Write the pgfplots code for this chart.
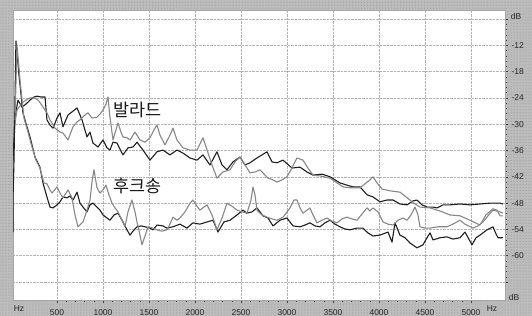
\documentclass[border=0pt]{standalone}
\usepackage{pgfplots}
\pgfplotsset{compat=1.18}
\usepackage{fontspec}
\setmainfont{Liberation Sans}
\newfontfamily\kr{Noto Sans CJK KR}
\usetikzlibrary{patterns}
\definecolor{framegray}{RGB}{188,188,188}
\definecolor{darkline}{RGB}{30,30,30}
\definecolor{lightline}{RGB}{135,135,135}
\begin{document}
\begin{tikzpicture}
\fill[framegray] (-13bp,-16bp) rectangle (519bp,300bp);
\fill[pattern=dots, pattern color=gray!85] (-13bp,-16bp) rectangle (519bp,300bp);
\begin{axis}[
  at={(0bp,0bp)}, anchor=south west,
  scale only axis, width=492bp, height=290bp,
  xmin=22, xmax=5370, ymin=-70.1, ymax=-3.95,
  axis background/.style={fill=white},
  axis line style={draw=gray!70, line width=0.5bp},
  xtick={500,1000,1500,2000,2500,3000,3500,4000,4500,5000},
  xticklabels={500,1000,1500,2000,2500,3000,3500,4000,4500,5000},
  ytick={-6,-12,-18,-24,-30,-36,-42,-48,-54,-60,-66},
  yticklabels={,-12,-18,-24,-30,-36,-42,-48,-54,-60,},
  minor x tick num=4, minor y tick num=4,
  xtick pos=bottom, ytick pos=right, yticklabel pos=right,
  tick align=outside,
  major tick length=3bp, minor tick length=2bp,
  every tick/.style={black!75, line width=0.5bp},
  grid=major,
  major grid style={gray!60, densely dotted, line width=0.5bp},
  ticklabel style={font=\fontsize{8.5}{9}\selectfont, text=black!85},
  xticklabel style={anchor=base, yshift=-12.5bp},
  yticklabel style={anchor=west, xshift=0bp},
  clip=true,
]
% Ballad, dark
\addplot[darkline, line width=1.1bp, line join=round] coordinates {
(22,-38.2)(44,-28.4)(76,-24.5)(120,-26.1)(163,-25.4)(207,-24.5)(250,-23.8)(283,-23.6)(326,-23.8)(370,-23.8)
(391,-29.0)(424,-30.2)(457,-30.9)(500,-28.6)(533,-27.4)(565,-30.6)(620,-27.9)(663,-27.2)(718,-26.3)(772,-29.0)
(826,-32.9)(859,-31.8)(891,-34.3)(946,-35.2)(1000,-33.6)(1044,-35.4)(1076,-35.9)(1109,-34.1)(1152,-34.3)(1217,-37.0)
(1272,-35.4)(1326,-35.2)(1370,-34.1)(1435,-35.9)(1511,-38.2)(1587,-36.3)(1652,-35.9)(1728,-37.0)(1804,-35.9)(1870,-36.6)
(1946,-37.7)(2022,-38.2)(2087,-37.0)(2163,-39.3)(2239,-36.3)(2294,-39.3)(2348,-40.4)(2413,-38.6)(2489,-37.5)(2544,-39.3)
(2598,-38.8)(2674,-37.7)(2728,-37.0)(2783,-36.3)(2837,-38.6)(2891,-38.8)(2957,-38.2)(3054,-40.0)(3142,-39.8)(3217,-40.9)
(3283,-41.6)(3381,-41.4)(3468,-42.0)(3576,-43.4)(3652,-43.9)(3718,-44.3)(3794,-44.3)(3870,-46.1)(3935,-46.6)(4011,-47.7)
(4087,-47.3)(4153,-47.3)(4228,-48.2)(4305,-48.4)(4370,-47.5)(4413,-47.3)(4468,-48.4)(4522,-48.9)(4587,-48.9)(4631,-49.1)
(4696,-48.4)(4772,-48.4)(4881,-48.2)(4989,-48.4)(5098,-48.2)(5207,-48.0)(5316,-48.0)(5348,-48.2)
};
% Ballad, light
\addplot[lightline, line width=1.1bp, line join=round] coordinates {
(33,-31.3)(65,-26.8)(120,-25.2)(163,-24.5)(207,-24.0)(261,-24.0)(304,-24.7)(348,-26.1)(391,-27.4)(424,-29.0)
(478,-30.9)(533,-31.8)(565,-32.0)(620,-33.6)(674,-30.6)(718,-29.5)(750,-29.0)(793,-28.1)(837,-27.4)(880,-28.6)
(935,-28.4)(968,-27.7)(1000,-26.8)(1033,-25.4)(1054,-23.8)(1076,-28.4)(1109,-33.6)(1141,-31.3)(1163,-29.7)(1196,-31.8)
(1217,-32.9)(1261,-33.1)(1294,-33.6)(1348,-31.8)(1402,-33.6)(1457,-34.1)(1511,-33.1)(1554,-31.3)(1587,-30.2)(1620,-32.5)
(1674,-34.7)(1728,-32.5)(1761,-30.9)(1804,-33.6)(1870,-35.4)(1946,-35.9)(2022,-35.9)(2087,-33.1)(2131,-35.9)(2185,-39.3)
(2239,-42.3)(2304,-40.9)(2381,-40.4)(2435,-38.6)(2489,-37.5)(2544,-39.3)(2598,-41.1)(2652,-40.9)(2707,-40.4)(2761,-41.6)
(2794,-42.3)(2848,-42.7)(2891,-43.2)(2946,-42.7)(3000,-42.0)(3054,-40.0)(3109,-37.7)(3174,-38.2)(3228,-40.0)(3283,-41.6)
(3359,-41.8)(3468,-42.3)(3544,-43.4)(3609,-44.3)(3685,-44.5)(3794,-44.5)(3848,-43.6)(3902,-42.7)(3935,-42.0)(3979,-43.4)
(4033,-44.8)(4120,-45.2)(4228,-45.5)(4283,-46.4)(4337,-47.3)(4392,-48.2)(4446,-48.9)(4555,-49.1)(4663,-49.8)(4772,-50.7)
(4881,-50.9)(4989,-51.9)(5098,-53.0)(5163,-50.7)(5239,-49.3)(5283,-49.6)(5316,-50.9)(5348,-50.9)
};
% Hook song, dark
\addplot[darkline, line width=1.1bp, line join=round] coordinates {
(22,-54.6)(22,-47.3)(33,-38.2)(54,-11.0)(87,-18.8)(130,-27.4)(174,-30.6)(207,-32.9)(261,-37.5)(315,-39.8)
(348,-43.4)(391,-46.6)(424,-48.9)(457,-49.1)(500,-48.4)(533,-47.7)(565,-46.6)(609,-46.8)(641,-46.4)(674,-47.3)
(718,-45.5)(750,-48.0)(783,-48.9)(826,-50.0)(859,-48.4)(891,-48.0)(935,-48.9)(968,-49.6)(1000,-50.7)(1044,-51.4)
(1076,-51.9)(1120,-50.7)(1163,-50.3)(1207,-51.9)(1261,-54.1)(1294,-55.3)(1326,-54.4)(1370,-53.4)(1413,-53.2)(1457,-53.4)
(1511,-53.7)(1544,-54.1)(1587,-53.0)(1652,-53.2)(1696,-53.7)(1761,-53.4)(1837,-52.8)(1913,-53.7)(1978,-52.5)(2054,-52.8)
(2131,-52.3)(2196,-51.9)(2250,-54.6)(2315,-52.3)(2381,-51.9)(2457,-50.7)(2522,-49.6)(2565,-50.3)(2620,-50.0)(2674,-49.1)
(2739,-50.9)(2794,-51.4)(2848,-53.2)(2924,-51.9)(3000,-51.4)(3065,-53.2)(3142,-53.4)(3196,-53.0)(3250,-52.5)(3304,-53.2)
(3359,-53.4)(3413,-52.5)(3468,-51.9)(3522,-52.8)(3576,-53.4)(3630,-53.9)(3685,-54.1)(3761,-53.7)(3826,-53.7)(3880,-54.8)
(3935,-55.5)(4011,-55.3)(4098,-54.6)(4142,-56.9)(4174,-52.5)(4228,-55.3)(4283,-55.9)(4337,-57.1)(4413,-58.2)(4479,-57.5)
(4522,-55.9)(4555,-54.8)(4587,-56.4)(4663,-55.9)(4739,-55.7)(4804,-56.2)(4881,-55.9)(4935,-54.6)(5011,-57.5)(5055,-55.9)
(5098,-55.3)(5174,-54.1)(5239,-53.4)(5272,-55.0)(5294,-55.9)(5348,-55.9)
};
% Hook song, light
\addplot[lightline, line width=1.1bp, line join=round] coordinates {
(44,-29.0)(65,-11.9)(98,-19.9)(141,-28.6)(185,-31.8)(228,-35.2)(272,-38.2)(315,-40.0)(358,-43.4)(391,-43.6)
(424,-45.0)(446,-45.7)(500,-44.3)(533,-45.7)(565,-46.8)(620,-45.0)(663,-46.8)(696,-50.7)(728,-53.4)(783,-52.3)
(826,-49.6)(859,-47.3)(880,-43.2)(902,-40.4)(935,-44.5)(968,-45.7)(1000,-45.0)(1033,-43.9)(1065,-46.1)(1098,-48.0)
(1131,-49.1)(1163,-50.0)(1207,-51.9)(1239,-53.4)(1272,-50.0)(1315,-47.3)(1348,-50.0)(1370,-52.3)(1402,-55.3)(1424,-57.5)
(1457,-55.5)(1489,-53.4)(1544,-53.7)(1587,-54.1)(1641,-54.4)(1696,-54.1)(1728,-52.8)(1761,-51.2)(1804,-51.9)(1837,-51.4)
(1891,-50.0)(1946,-48.0)(1978,-47.3)(2022,-48.7)(2054,-49.6)(2098,-48.9)(2131,-48.4)(2185,-50.7)(2239,-54.1)(2294,-51.4)
(2348,-48.0)(2402,-48.7)(2457,-49.6)(2511,-50.0)(2565,-50.3)(2609,-47.3)(2631,-44.3)(2652,-46.1)(2674,-49.6)(2728,-50.7)
(2783,-51.2)(2837,-51.6)(2891,-51.9)(2957,-51.2)(3033,-49.1)(3076,-47.3)(3109,-47.3)(3142,-49.1)(3174,-50.3)(3217,-49.6)
(3250,-49.1)(3283,-50.7)(3326,-52.5)(3381,-51.9)(3435,-51.4)(3489,-52.1)(3544,-52.5)(3598,-51.6)(3652,-51.2)(3707,-51.6)
(3761,-51.9)(3815,-50.5)(3870,-49.1)(3902,-49.8)(3935,-49.1)(3989,-50.0)(4044,-52.3)(4098,-52.8)(4153,-53.0)(4207,-51.9)
(4261,-51.4)(4305,-51.9)(4348,-50.7)(4392,-48.9)(4424,-50.7)(4446,-53.4)(4500,-53.7)(4555,-53.7)(4641,-53.4)(4739,-53.4)
(4804,-52.8)(4881,-51.9)(4935,-52.8)(5022,-53.7)(5076,-53.2)(5131,-52.3)(5185,-50.9)(5239,-49.6)(5283,-49.8)(5316,-50.0)(5348,-50.3)
};
\node[font=\kr\fontsize{17.5}{18}\selectfont, text=black!90] at (axis cs:1375,-26.8) {발라드};
\node[font=\kr\fontsize{17.5}{18}\selectfont, text=black!90] at (axis cs:1375,-44.1) {후크송};
\end{axis}
\node[font=\fontsize{8.5}{9}\selectfont, text=black!85] at (503bp,284bp) {dB};
\node[font=\fontsize{8.5}{9}\selectfont, text=black!85] at (501bp,3bp) {dB};
\node[font=\fontsize{8.5}{9}\selectfont, text=black!85] at (6bp,-9bp) {Hz};
\node[font=\fontsize{8.5}{9}\selectfont, text=black!85] at (479bp,-9bp) {Hz};
\pgfresetboundingbox
\path[use as bounding box] (-13bp,-16bp) rectangle (519bp,300bp);
\end{tikzpicture}
\end{document}
